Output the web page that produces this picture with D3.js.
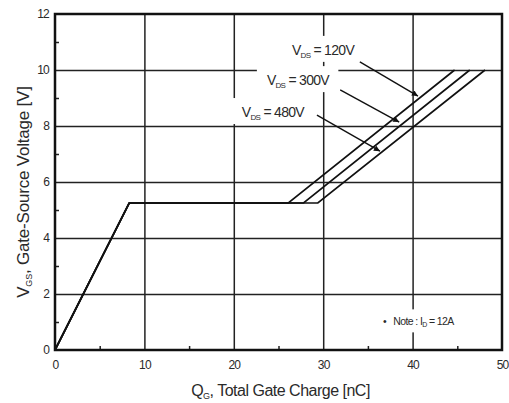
<!DOCTYPE html>
<html>
<head>
<meta charset="utf-8">
<script src="https://cdn.jsdelivr.net/npm/d3@7"></script>
<style>
  html, body { margin: 0; padding: 0; background: #fff; }
  svg { display: block; }
  text { font-family: "Liberation Sans", Arial, sans-serif; fill: #2a2a2a; }
</style>
</head>
<body>
<svg id="chart" width="509" height="403"></svg>
<script>
// ---- data ----
const xTicks = [0, 10, 20, 30, 40, 50];
const yTicks = [0, 2, 4, 6, 8, 10, 12];
const xMinor = [5, 15, 25, 35, 45];
const yMinor = [1, 3, 5, 7, 9, 11];

const seriesNames = ["120V", "300V", "480V"];
const q120 = [0, 8.3, 26.1, 44.7];
const v120 = [0, 5.25, 5.25, 10];
const q300 = [0, 8.3, 27.8, 46.4];
const v300 = [0, 5.25, 5.25, 10];
const q480 = [0, 8.3, 29.4, 48.1];
const v480 = [0, 5.25, 5.25, 10];

// annotation anchors (data units)
const labelQ = [26.5, 23.7, 20.9];
const labelV = [10.54, 9.46, 8.32];
const arrowFromQ = [34.1, 31.9, 29.3];
const arrowFromV = [10.29, 9.29, 8.39];
const arrowToQ = [40.6, 38.5, 36.35];
const arrowToV = [9.07, 8.14, 7.1];
const noteQ = 36.7, noteV = 0.88;

// ---- layout ----
const svg = d3.select("#chart");
const margin = { left: 55, top: 14, right: 7, bottom: 53 };
const W = 509 - margin.left - margin.right;
const H = 403 - margin.top - margin.bottom;
const x = d3.scaleLinear().domain([0, 50]).range([margin.left, margin.left + W]);
const y = d3.scaleLinear().domain([0, 12]).range([margin.top + H, margin.top]);

// grid lines
svg.append("g")
  .attr("transform", `translate(0,${margin.top + H})`)
  .call(d3.axisBottom(x).tickValues(xTicks.slice(1, -1)).tickSize(-H).tickFormat(""))
  .call(g => g.select(".domain").remove())
  .call(g => g.selectAll("line").attr("stroke", "#222").attr("stroke-width", 1.5));
svg.append("g")
  .attr("transform", `translate(${margin.left},0)`)
  .call(d3.axisLeft(y).tickValues(yTicks.slice(1, -1)).tickSize(-W).tickFormat(""))
  .call(g => g.select(".domain").remove())
  .call(g => g.selectAll("line").attr("stroke", "#222").attr("stroke-width", 1.5));

// minor ticks (inward)
svg.append("g")
  .attr("transform", `translate(0,${margin.top + H})`)
  .call(d3.axisBottom(x).tickValues(xMinor).tickSize(-4).tickFormat(""))
  .call(g => g.select(".domain").remove())
  .call(g => g.selectAll("line").attr("stroke", "#222").attr("stroke-width", 1.5));
svg.append("g")
  .attr("transform", `translate(${margin.left},0)`)
  .call(d3.axisLeft(y).tickValues(yMinor).tickSize(-4).tickFormat(""))
  .call(g => g.select(".domain").remove())
  .call(g => g.selectAll("line").attr("stroke", "#222").attr("stroke-width", 1.5));

// tick labels
svg.append("g")
  .attr("transform", `translate(0,${margin.top + H})`)
  .call(d3.axisBottom(x).tickValues(xTicks).tickSize(0).tickPadding(10).tickFormat(d3.format("d")))
  .call(g => g.select(".domain").remove())
  .call(g => g.selectAll("text").attr("font-size", 12).attr("font-family", "Liberation Sans, Arial, sans-serif").attr("fill", "#333").attr("letter-spacing", -0.8));
svg.append("g")
  .attr("transform", `translate(${margin.left},0)`)
  .call(d3.axisLeft(y).tickValues(yTicks).tickSize(0).tickPadding(6).tickFormat(d3.format("d")))
  .call(g => g.select(".domain").remove())
  .call(g => g.selectAll("text").attr("font-size", 12).attr("font-family", "Liberation Sans, Arial, sans-serif").attr("fill", "#333").attr("letter-spacing", -0.8));

// curves
const line = d3.line().x(d => x(d[0])).y(d => y(d[1]));
const seriesQ = [q120, q300, q480];
const seriesV = [v120, v300, v480];
seriesNames.forEach((name, i) => {
  const pts = seriesQ[i].map((q, j) => [q, seriesV[i][j]]);
  svg.append("path")
    .attr("d", line(pts))
    .attr("fill", "none")
    .attr("stroke", "#111")
    .attr("stroke-width", 1.7)
    .attr("stroke-linejoin", "miter");
});

// arrow marker
svg.append("defs").append("marker")
  .attr("id", "ah")
  .attr("viewBox", "0 0 10 10")
  .attr("refX", 10).attr("refY", 5)
  .attr("markerWidth", 7).attr("markerHeight", 6)
  .attr("markerUnits", "userSpaceOnUse")
  .attr("orient", "auto")
  .append("path").attr("d", "M0,0 L10,5 L0,10 z").attr("fill", "#111");

// labels with white boxes
function subText(g, main, sub, rest, size, subSize) {
  const t = g.append("text").attr("font-size", size).attr("letter-spacing", -0.7);
  t.append("tspan").text(main);
  t.append("tspan").attr("font-size", subSize).attr("dy", 3).text(sub);
  t.append("tspan").attr("dy", -3).text(rest);
  return t;
}

seriesNames.forEach((name, i) => {
  const g = svg.append("g").attr("transform", `translate(${x(labelQ[i])},${y(labelV[i])})`);
  const rect = g.append("rect").attr("fill", "#fff");
  const t = subText(g, "V", "DS", " = " + name, 14, 8);
  const bb = t.node().getBBox();
  rect.attr("x", bb.x - 10).attr("y", bb.y - 6).attr("width", bb.width + 18).attr("height", bb.height + 8);
});
seriesNames.forEach((name, i) => {
  svg.append("line")
    .attr("x1", x(arrowFromQ[i])).attr("y1", y(arrowFromV[i]))
    .attr("x2", x(arrowToQ[i])).attr("y2", y(arrowToV[i]))
    .attr("stroke", "#111").attr("stroke-width", 1.4)
    .attr("marker-end", "url(#ah)");
});

// note
{
  const g = svg.append("g").attr("transform", `translate(${x(noteQ)},${y(noteV)})`);
  const rect = g.append("rect").attr("fill", "#fff");
  const t = g.append("text").attr("font-size", 10.5).attr("letter-spacing", -0.6);
  t.append("tspan").text("•");
  t.append("tspan").attr("dx", 7).text("Note : I");
  t.append("tspan").attr("font-size", 7).attr("dy", 2).text("D");
  t.append("tspan").attr("dy", -2).text(" = 12A");
  const bb = t.node().getBBox();
  rect.attr("x", bb.x - 4).attr("y", bb.y - 6).attr("width", bb.width + 8).attr("height", bb.height + 10);
}

// frame
svg.append("rect")
  .attr("x", margin.left).attr("y", margin.top)
  .attr("width", W).attr("height", H)
  .attr("fill", "none").attr("stroke", "#111").attr("stroke-width", 2.5);

// axis titles
{
  const t = svg.append("text")
    .attr("x", margin.left + W / 2 + 2).attr("y", 396)
    .attr("text-anchor", "middle").attr("font-size", 16).attr("letter-spacing", -0.5);
  t.append("tspan").text("Q");
  t.append("tspan").attr("font-size", 9).attr("dy", 3).text("G");
  t.append("tspan").attr("dy", -3).text(", Total Gate Charge [nC]");
}
{
  const t = svg.append("text")
    .attr("transform", `translate(29,192) rotate(-90)`)
    .attr("text-anchor", "middle").attr("font-size", 17).attr("letter-spacing", -0.2);
  t.append("tspan").text("V");
  t.append("tspan").attr("font-size", 9).attr("dy", 3).text("GS");
  t.append("tspan").attr("dy", -3).text(", Gate-Source Voltage [V]");
}
</script>
</body>
</html>
